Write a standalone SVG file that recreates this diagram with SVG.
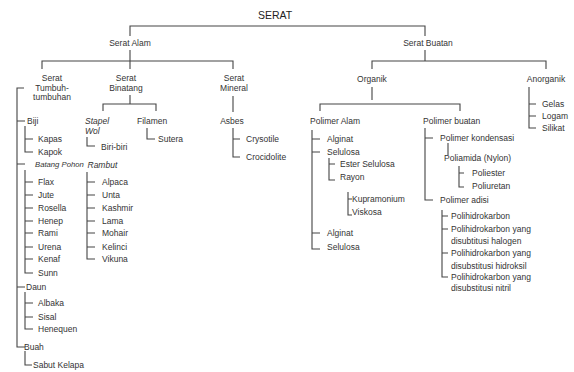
<svg xmlns="http://www.w3.org/2000/svg" width="574" height="372" viewBox="0 0 574 372">
<style>
text{font-family:"Liberation Sans",Arial,sans-serif;font-size:8.5px;fill:#333}
.c{text-anchor:middle}
.i{font-style:italic}
.t{font-size:10.5px;fill:#222}
#connectors path{fill:none;stroke:#444;stroke-width:1.1}
</style>
<rect width="574" height="372" fill="#fff"/>
<g id="connectors">
<path d="M130 36V26H425V36"/>
<path d="M130 50V61M42 69V61H233V69M130 61V69"/>
<path d="M425 50V61M372 69V61H546V69"/>
<path d="M130 95V104M103 111V104H156V111"/>
<path d="M87 137V146H95"/>
<path d="M147 128V139H155"/>
<path d="M233 96V112"/>
<path d="M233 128V157H240M233 139H240"/>
<path d="M24 88H17V347H25M17 121H25M17 164H25M17 287H25"/>
<path d="M25 126V152H33M25 139H33"/>
<path d="M25 170V273H33M25 182H33M25 195H33M25 208H33M25 221H33M25 233H33M25 247H33M25 259H33"/>
<path d="M25 292V329H33M25 303H33M25 317H33"/>
<path d="M25 351V365H32"/>
<path d="M87 172V259H95M87 182H95M87 195H95M87 208H95M87 221H95M87 233H95M87 247H95"/>
<path d="M372 87V100M320 111V104H460V111"/>
<path d="M312 130V249H320M312 139H320M312 152H320M312 233H320"/>
<path d="M329 158V180H335M329 164H335"/>
<path d="M348 192V215H352M348 199H352"/>
<path d="M425 128V200H433M425 138H433"/>
<path d="M448 143V155"/>
<path d="M459 166V187H464M459 173H464"/>
<path d="M442 210V277H448M442 216H448M442 229H448M442 253H448"/>
<path d="M529 87V128H536M529 104H536M529 116H536"/>
</g>
<g id="serat"><text class="c t" x="275" y="19">SERAT</text></g>
<g id="serat-alam"><text class="c" x="130" y="46">Serat Alam</text></g>
<g id="serat-buatan"><text class="c" x="428" y="46">Serat Buatan</text></g>
<g id="serat-tumbuhan"><text class="c" x="52" y="81">Serat</text><text class="c" x="52" y="91">Tumbuh-</text><text class="c" x="52" y="100">tumbuhan</text></g>
<g id="serat-binatang"><text class="c" x="126" y="81">Serat</text><text class="c" x="126" y="91">Binatang</text></g>
<g id="serat-mineral"><text class="c" x="234" y="81">Serat</text><text class="c" x="234" y="91">Mineral</text></g>
<g id="stapel-wol"><text class="i" x="85" y="124">Stapel</text><text class="i" x="85" y="134">Wol</text></g>
<g id="biri-biri"><text x="101" y="150">Biri-biri</text></g>
<g id="filamen"><text x="137" y="124">Filamen</text></g>
<g id="sutera"><text x="158" y="142">Sutera</text></g>
<g id="asbes"><text class="c" x="232" y="124">Asbes</text></g>
<g id="crysotile"><text x="246" y="142">Crysotile</text></g>
<g id="crocidolite"><text x="246" y="160">Crocidolite</text></g>
<g id="biji"><text x="27" y="124">Biji</text></g>
<g id="kapas"><text x="38" y="142">Kapas</text></g>
<g id="kapok"><text x="38" y="155">Kapok</text></g>
<g id="batang-pohon"><text class="i" x="35" y="167" style="font-size:7.7px">Batang Pohon</text></g>
<g id="flax"><text x="38" y="185">Flax</text></g>
<g id="jute"><text x="38" y="198">Jute</text></g>
<g id="rosella"><text x="38" y="211">Rosella</text></g>
<g id="henep"><text x="38" y="224">Henep</text></g>
<g id="rami"><text x="38" y="236">Rami</text></g>
<g id="urena"><text x="38" y="250">Urena</text></g>
<g id="kenaf"><text x="38" y="262">Kenaf</text></g>
<g id="sunn"><text x="38" y="276">Sunn</text></g>
<g id="daun"><text x="26" y="290">Daun</text></g>
<g id="albaka"><text x="38" y="306">Albaka</text></g>
<g id="sisal"><text x="38" y="320">Sisal</text></g>
<g id="henequen"><text x="38" y="332">Henequen</text></g>
<g id="buah"><text x="24" y="350">Buah</text></g>
<g id="sabut-kelapa"><text x="33" y="368">Sabut Kelapa</text></g>
<g id="rambut"><text class="i" x="87.5" y="168">Rambut</text></g>
<g id="alpaca"><text x="102" y="185">Alpaca</text></g>
<g id="unta"><text x="102" y="198">Unta</text></g>
<g id="kashmir"><text x="102" y="211">Kashmir</text></g>
<g id="lama"><text x="102" y="224">Lama</text></g>
<g id="mohair"><text x="102" y="236">Mohair</text></g>
<g id="kelinci"><text x="102" y="250">Kelinci</text></g>
<g id="vikuna"><text x="102" y="262">Vikuna</text></g>
<g id="organik"><text class="c" x="372" y="82">Organik</text></g>
<g id="anorganik"><text class="c" x="546" y="82">Anorganik</text></g>
<g id="gelas"><text x="542" y="107">Gelas</text></g>
<g id="logam"><text x="542" y="119">Logam</text></g>
<g id="silikat"><text x="542" y="131">Silikat</text></g>
<g id="polimer-alam"><text x="310" y="124">Polimer Alam</text></g>
<g id="polimer-buatan"><text x="423" y="124">Polimer buatan</text></g>
<g id="alginat-1"><text x="327" y="142">Alginat</text></g>
<g id="selulosa-1"><text x="327" y="155">Selulosa</text></g>
<g id="ester-selulosa"><text x="340" y="167">Ester Selulosa</text></g>
<g id="rayon"><text x="340" y="180">Rayon</text></g>
<g id="kupramonium"><text x="352" y="202">Kupramonium</text></g>
<g id="viskosa"><text x="352" y="215">Viskosa</text></g>
<g id="alginat-2"><text x="327" y="236">Alginat</text></g>
<g id="selulosa-2"><text x="327" y="250">Selulosa</text></g>
<g id="polimer-kondensasi"><text x="440" y="141">Polimer kondensasi</text></g>
<g id="poliamida"><text x="444" y="161">Poliamida (Nylon)</text></g>
<g id="poliester"><text x="472" y="176">Poliester</text></g>
<g id="poliuretan"><text x="472" y="189">Poliuretan</text></g>
<g id="polimer-adisi"><text x="440" y="203">Polimer adisi</text></g>
<g id="polihidrokarbon"><text x="451" y="219">Polihidrokarbon</text></g>
<g id="poli-halogen"><text x="451" y="232">Polihidrokarbon yang</text><text x="451" y="244">disubtitusi halogen</text></g>
<g id="poli-hidroksil"><text x="451" y="256">Polihidrokarbon yang</text><text x="451" y="269">disubstitusi hidroksil</text></g>
<g id="poli-nitril"><text x="451" y="280">Polihidrokarbon yang</text><text x="451" y="291">disubstitusi nitril</text></g>
</svg>
